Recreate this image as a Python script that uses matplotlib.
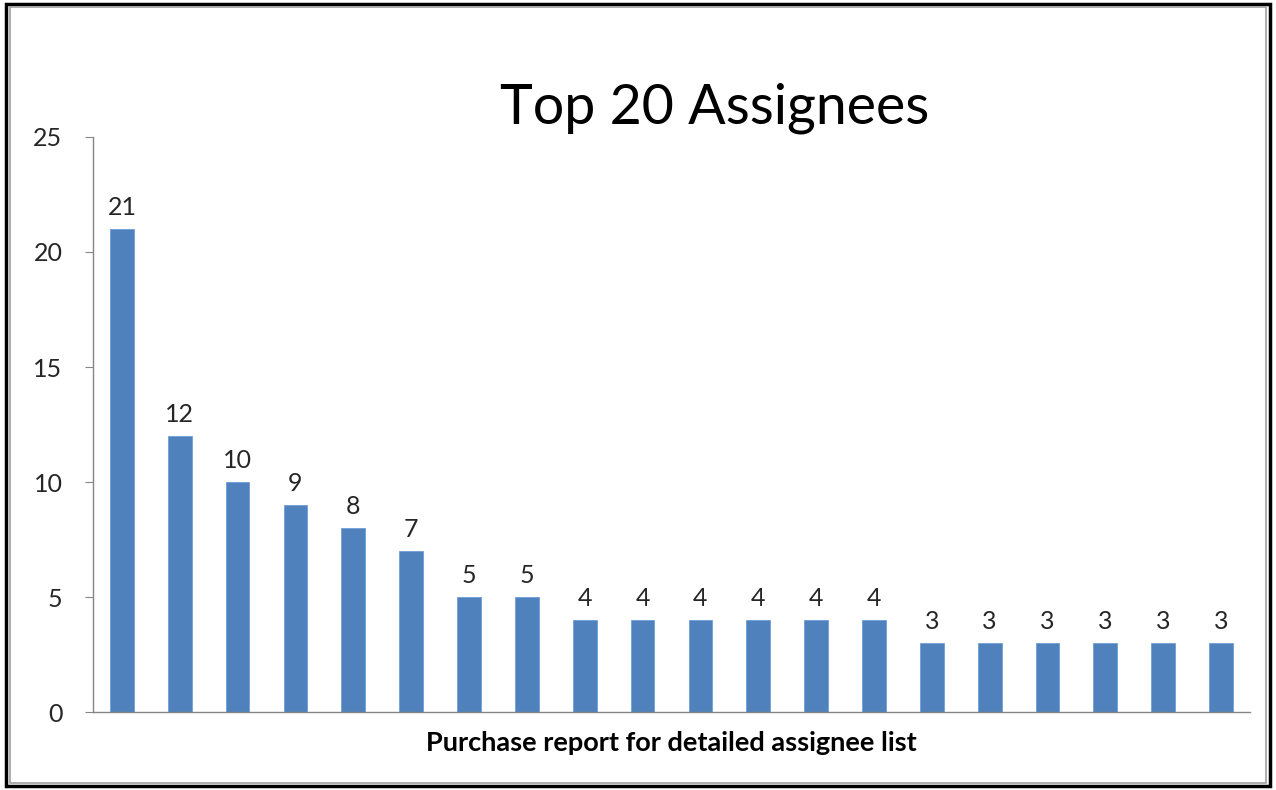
import matplotlib
matplotlib.use("Agg")
import matplotlib.pyplot as plt
from matplotlib.patches import Rectangle

plt.rcParams.update({"font.family": ["Lato", "DejaVu Sans"]})

# data
ranks = list(range(1, 21))
counts = [21, 12, 10, 9, 8, 7, 5, 5, 4, 4, 4, 4, 4, 4, 3, 3, 3, 3, 3, 3]
yticks = [0, 5, 10, 15, 20, 25]

BAR = "#4f81bd"
AXIS = "#868686"
INK = "#262626"

fig = plt.figure(figsize=(12.76, 7.9), dpi=100)
ax = fig.add_axes([0.0729, 0.0987, 0.9067, 0.7279])

xs = [r - 1 for r in ranks]
ax.bar(xs, counts, width=0.41, color=BAR, edgecolor="#6f9fd8", linewidth=0.6)
for x, v in zip(xs, counts):
    ax.text(x, v + 0.45, str(v), ha="center", va="bottom", fontsize=18, color=INK)

ax.set_xlim(-0.5, len(xs) - 0.5)
ax.set_ylim(0, 25)
ax.set_yticks(yticks)
ax.set_xticks([])
ax.tick_params(axis="y", length=6, color=AXIS, labelsize=18, labelcolor=INK, pad=16)
for s in ("top", "right"):
    ax.spines[s].set_visible(False)
for s in ("left", "bottom"):
    ax.spines[s].set_color(AXIS)
    ax.spines[s].set_linewidth(1.0)

ax.set_xlabel("Purchase report for detailed assignee list", fontsize=19.5,
              fontweight="bold", color="black", labelpad=14)
fig.text(0.56, 0.863, "Top 20 Assignees", ha="center", va="center",
         fontsize=40, color="black")

# picture frame
fig.patches.append(Rectangle((0.005, 0.005), 0.99, 0.99, transform=fig.transFigure,
                             fill=False, edgecolor="black", linewidth=2.5))
fig.patches.append(Rectangle((0.0075, 0.009), 0.985, 0.982, transform=fig.transFigure,
                             fill=False, edgecolor="#a0a0a0", linewidth=1.2))

fig.savefig("out.png", dpi=100, facecolor="white")
